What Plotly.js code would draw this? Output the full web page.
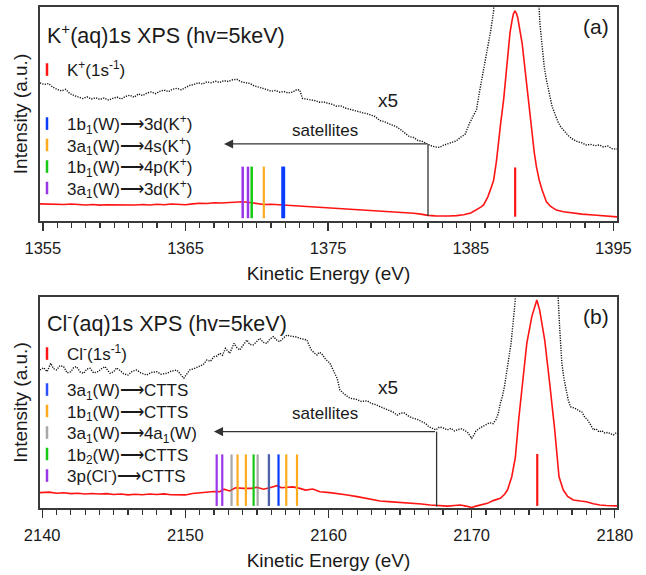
<!DOCTYPE html>
<html>
<head>
<meta charset="utf-8">
<script src="https://cdn.plot.ly/plotly-3.0.1.min.js"></script>
<style>html,body{margin:0;padding:0;background:#fff;}#chart{width:646px;height:575px;}</style>
</head>
<body>
<div id="chart"></div>
<script>
// ---------- Panel (a): K+ 1s XPS ----------
const kEnergy = [1354.8,1355.5,1356,1356.5,1357,1357.5,1358,1358.5,1359,1359.5,1360,1360.5,1361,1361.5,1362,1362.5,1363,1363.5,1364,1364.5,1365,1365.5,1366,1366.5,1367,1367.5,1368,1368.5,1369,1369.5,1370,1370.5,1371,1371.5,1372,1372.5,1373,1373.5,1374,1374.5,1375,1375.5,1376,1376.5,1377,1377.5,1378,1378.5,1379,1379.5,1380,1380.5,1381,1381.5,1382,1382.5,1383,1383.5,1384,1384.5,1385,1385.4,1385.7,1385.9,1386.2,1386.4,1386.6,1386.8,1386.9,1387.1,1387.3,1387.5,1387.6,1387.75,1387.9,1388.0,1388.1,1388.2,1388.3,1388.45,1388.6,1388.75,1388.9,1389.1,1389.3,1389.45,1389.6,1389.8,1390.0,1390.3,1390.6,1391.0,1391.5,1392.2,1392.8,1393.6,1394.3,1395.0,1395.25];
const kIntensity = [8.0,7.8,8.0,7.7,7.9,7.6,7.5,7.7,7.4,7.6,7.5,7.4,7.6,7.5,7.7,7.5,7.8,7.6,7.9,7.7,7.6,8.0,8.3,8.2,8.5,8.4,8.7,8.9,9.0,8.6,8.1,7.7,7.8,7.6,7.3,7.2,7.0,6.8,6.6,6.4,6.2,5.9,5.7,5.5,5.3,5.0,4.9,4.7,4.5,4.3,4.0,3.8,3.6,3.2,2.6,2.4,2.2,2.3,2.5,2.9,3.7,5.1,6.5,7.5,11.4,15.0,19.0,28,34.7,46,56.5,72,80,88,94,97,98,97,94.7,89,83,74,64.5,52,41,32,25.4,19,14.5,9,6.8,5.1,4.3,3.6,3.2,2.8,2.4,2.0,1.9];

const kZoomEnergy = [1354.8,1355.1,1355.4,1355.7,1356.0,1356.3,1356.6,1356.9,1357.2,1357.5,1357.8,1358.1,1358.4,1358.7,1359.0,1359.3,1359.6,1359.9,1360.2,1360.5,1360.8,1361.1,1361.4,1361.7,1362.0,1362.3,1362.6,1362.9,1363.2,1363.5,1363.8,1364.1,1364.4,1364.7,1365.0,1365.3,1365.6,1365.9,1366.2,1366.5,1366.8,1367.1,1367.4,1367.7,1368.0,1368.3,1368.6,1368.9,1369.2,1369.5,1369.8,1370.1,1370.4,1370.7,1371.0,1371.3,1371.6,1371.9,1372.2,1372.5,1372.8,1373.0,1373.2,1373.5,1373.8,1374.1,1374.4,1374.7,1375.0,1375.3,1375.6,1375.9,1376.2,1376.5,1376.8,1377.1,1377.4,1377.7,1378.0,1378.3,1378.6,1378.9,1379.2,1379.5,1379.8,1380.1,1380.4,1380.7,1381.0,1381.3,1381.6,1381.9,1382.2,1382.5,1382.8,1383.1,1383.4,1383.7,1384.0,1384.3,1384.6,1384.9,1385.2,1385.4,1385.6,1385.8,1386.0,1386.2,1386.4,1386.6,1386.8,1387.2,1387.6,1388.1,1388.6,1389.0,1389.4,1389.7,1389.85,1390.0,1390.15,1390.3,1390.5,1390.7,1390.9,1391.1,1391.3,1391.6,1391.9,1392.2,1392.5,1392.8,1393.1,1393.4,1393.7,1394.0,1394.3,1394.6,1394.9,1395.25];
const kZoomIntensity = [64.5,63.8,64.2,62.5,61.5,60.8,61.5,59.5,58.6,58.0,57.2,58.0,57.0,57.6,56.8,57.5,56.5,57.3,57.9,57.0,58.2,58.8,57.8,59.4,58.6,59.8,60.3,59.5,60.6,61.2,60.4,61.6,62.0,61.3,62.5,63.4,63.8,64.6,64.0,65.0,64.6,65.3,64.7,65.6,65.2,66.0,66.2,65.1,64.6,64.3,63.2,62.6,62.2,61.4,60.6,61.0,60.2,60.5,59.8,60.2,61.4,61.2,57.3,57.0,56.6,56.2,55.5,55.6,55.0,54.5,53.6,53.8,52.8,52.2,51.6,51.0,50.6,50.2,49.6,48.8,47.0,46.5,45.6,44.8,44.0,42.6,41.0,39.4,39.0,37.6,37.2,36.0,35.2,34.6,34.4,35.4,36.0,36.6,37.5,39.2,40.5,45.5,49.0,52.0,60.0,67.0,75.0,82.0,89.0,98.0,125,220,380,470,400,300,180,110,92,80,72,66,60,53.5,50.0,46.5,44.0,41.5,39.4,38.0,37.0,36.5,35.5,35.8,35.2,35.5,34.6,35.0,33.8,33.6];

const kMainLine = [1388.11];
const k_1b1_3d = [1371.80, 1371.90];
const k_3a1_4s = [1370.49];
const k_1b1_4p = [1369.64];
const k_3a1_3d = [1369.01, 1369.38];

// ---------- Panel (b): Cl- 1s XPS ----------
const clEnergy = [2139.85,2140.5,2141,2141.5,2142,2142.5,2143,2143.5,2144,2144.5,2145,2145.5,2146,2146.5,2147,2147.5,2148,2148.5,2149,2149.5,2150,2150.5,2151,2151.5,2152,2152.4,2152.7,2153.1,2153.5,2154.05,2154.6,2155.0,2155.45,2155.9,2156.4,2156.7,2157.1,2157.5,2158.0,2158.4,2158.9,2159.4,2160.1,2160.6,2161.2,2162,2162.8,2163.6,2164.2,2164.8,2165.4,2165.9,2166.5,2167.1,2167.7,2168.3,2168.8,2169.2,2169.6,2170.0,2170.3,2170.6,2171.1,2171.5,2172.0,2172.3,2172.5,2172.8,2173.05,2173.3,2173.6,2173.85,2174.2,2174.55,2174.75,2175.1,2175.45,2175.8,2176.1,2176.4,2176.7,2177.1,2177.6,2178.0,2178.5,2178.95,2179.4,2179.9,2180.15];
const clIntensity = [7.3,7.5,7.0,7.2,6.8,7.0,6.6,6.9,6.6,6.8,6.4,6.6,6.2,6.5,6.3,6.6,6.4,6.7,6.3,6.4,6.2,6.9,7.3,7.6,7.8,7.7,8.9,8.1,9.6,9.3,9.3,9.8,8.9,9.6,10.6,9.6,9.8,10.0,9.3,8.5,9.0,7.7,7.3,6.9,6.3,5.4,4.3,3.3,3.0,2.8,2.5,2.2,1.9,1.4,1.1,0.9,1.2,1.4,0.9,0.2,0.9,1.4,2.2,3.5,4.6,6.5,8.5,14.8,24,43,64,78,90.7,98.6,93.8,79.6,59,37,14.8,8.5,5.5,3.8,3.3,3.0,2.0,1.4,1.2,0.9,1.0];

const clZoomEnergy = [2139.85,2140.1,2140.35,2140.6,2140.8,2141.0,2141.25,2141.5,2141.75,2142.0,2142.2,2142.4,2142.65,2142.9,2143.1,2143.35,2143.6,2143.9,2144.15,2144.4,2144.6,2144.75,2145.0,2145.2,2145.4,2145.7,2146.0,2146.3,2146.6,2146.9,2147.3,2147.6,2148.0,2148.3,2148.7,2149.0,2149.4,2149.65,2149.9,2150.1,2150.3,2150.6,2151.0,2151.25,2151.5,2151.75,2152.0,2152.2,2152.4,2152.6,2152.8,2153.0,2153.1,2153.4,2153.6,2153.8,2154.05,2154.3,2154.5,2154.75,2155.0,2155.2,2155.45,2155.7,2155.9,2156.15,2156.4,2156.6,2156.85,2157.1,2157.3,2157.55,2157.8,2158.0,2158.25,2158.5,2158.65,2158.8,2159.0,2159.2,2159.35,2159.5,2159.8,2160.1,2160.35,2160.6,2160.8,2161.1,2161.5,2161.9,2162.3,2162.7,2163.0,2163.3,2163.6,2163.9,2164.2,2164.5,2164.8,2165.05,2165.3,2165.6,2165.9,2166.2,2166.5,2166.8,2167.0,2167.25,2167.5,2167.75,2168.0,2168.3,2168.55,2168.8,2169.05,2169.3,2169.5,2169.7,2169.85,2170.0,2170.15,2170.3,2170.6,2170.8,2171.0,2171.25,2171.5,2171.7,2171.85,2172.0,2172.15,2172.3,2172.45,2172.6,2172.75,2172.85,2173.05,2173.3,2173.6,2174.0,2174.55,2175.1,2175.45,2175.8,2176.0,2176.15,2176.3,2176.45,2176.6,2176.75,2176.9,2177.1,2177.3,2177.5,2177.7,2177.9,2178.1,2178.3,2178.5,2178.7,2178.9,2179.1,2179.3,2179.5,2179.7,2179.9,2180.15];
const clZoomIntensity = [65.4,66.5,64.6,68.6,66.0,65.4,67.5,67.0,64.0,64.6,66.5,67.0,64.5,63.8,65.8,66.2,64.0,64.6,66.0,67.0,65.0,63.8,64.6,66.4,65.4,63.6,63.0,64.8,65.4,64.0,63.0,64.2,64.6,63.4,63.8,64.8,65.4,63.5,61.5,63.5,65.4,66.0,67.0,68.0,70.1,69.5,71.7,72.0,73.3,72.4,75.7,73.8,73.3,78.0,76.0,74.9,77.0,79.6,77.5,77.3,79.0,80.4,78.5,78.0,80.0,81.2,79.5,78.8,80.5,82.0,81.5,81.2,81.0,80.4,80.0,79.6,77.0,74.9,73.5,72.5,73.8,73.3,70.5,68.6,65.0,61.5,55.9,54.0,52.0,51.6,50.5,50.8,49.5,49.0,48.0,47.2,46.5,45.5,44.0,45.0,45.0,43.5,42.6,42.0,41.0,40.0,38.5,37.6,37.0,38.4,38.0,37.0,37.8,36.5,37.2,37.5,36.8,36.0,34.5,33.0,34.5,36.5,38.0,38.6,39.5,40.4,40.0,42.0,44.5,49.6,53.0,58.0,64.0,71.6,78.0,85.0,98.6,150,270,420,480,380,270,150,105,85.0,68.6,61.0,55.0,51.0,48.0,47.5,47.0,46.0,45.5,43.0,41.7,39.5,37.0,37.5,36.0,36.6,35.5,35.8,35.0,34.6,36.0];

const clMainLine = [2174.58];
const c_3a1_ctts = [2155.84, 2156.51];
const c_1b1_ctts = [2153.65, 2154.23, 2157.05, 2157.80];
const c_3a1_4a1 = [2153.23, 2155.05, 2155.84];
const c_1b2_ctts = [2154.77];
const c_3p_ctts = [2152.19, 2152.58];

// ---------- styling / helpers ----------
const FONT = 'Liberation Sans, Arial, Helvetica, sans-serif';
const TXT = '#1a1a1a';
const RED = '#ff1414', BLUE = '#0a3cff', ORANGE = '#ffab1e', GREEN = '#14c814', PURPLE = '#9a35ea', GRAY = 'rgba(120,120,120,0.65)';
const ARR = '⟶';

function sticks(energies, lo, hi, color, width, xa, ya) {
  const x = [], y = [];
  energies.forEach(e => { x.push(e, e, null); y.push(lo, hi, null); });
  return {x, y, xaxis: xa, yaxis: ya, mode: 'lines', line: {color, width}, showlegend: false, hoverinfo: 'skip'};
}
function curve(x, y, color, width, dash, xa, ya) {
  return {x, y, xaxis: xa, yaxis: ya, mode: 'lines', line: {color, width, dash}, showlegend: false, hoverinfo: 'skip'};
}
function legendEntry(name, color, xa, ya, legendId) {
  return {x: [null], y: [null], xaxis: xa, yaxis: ya, mode: 'markers', name, legend: legendId,
    marker: {symbol: 'line-ns-open', size: 9, color, line: {color, width: 2.5}}, hoverinfo: 'skip'};
}

const traces = [
  curve(kZoomEnergy, kZoomIntensity, '#111', 1.4, '1.2px,1.3px', 'x', 'y'),
  curve(kEnergy, kIntensity, RED, 1.6, 'solid', 'x', 'y'),
  sticks(k_3a1_3d, 1.3, 25.4, PURPLE, 2.5, 'x', 'y'),
  sticks(k_1b1_4p, 1.3, 25.4, GREEN, 2.5, 'x', 'y'),
  sticks(k_3a1_4s, 1.3, 25.4, ORANGE, 2.2, 'x', 'y'),
  sticks(k_1b1_3d, 1.3, 25.4, BLUE, 2.5, 'x', 'y'),
  sticks(kMainLine, 2.0, 25.0, RED, 2.2, 'x', 'y'),

  curve(clZoomEnergy, clZoomIntensity, '#111', 1.4, '1.2px,1.3px', 'x2', 'y2'),
  curve(clEnergy, clIntensity, RED, 1.6, 'solid', 'x2', 'y2'),
  sticks(c_3p_ctts, 1.0, 25.4, PURPLE, 2.2, 'x2', 'y2'),
  sticks(c_1b1_ctts, 1.0, 25.4, ORANGE, 2.2, 'x2', 'y2'),
  sticks(c_1b2_ctts, 1.0, 25.4, GREEN, 2.2, 'x2', 'y2'),
  sticks(c_3a1_ctts, 1.0, 25.4, BLUE, 2.2, 'x2', 'y2'),
  sticks(c_3a1_4a1, 1.0, 25.4, GRAY, 2.2, 'x2', 'y2'),
  sticks(clMainLine, 1.0, 25.6, RED, 2.2, 'x2', 'y2'),

  legendEntry('K<sup>+</sup>(1s<sup>-1</sup>)', RED, 'x', 'y', 'legend'),
  legendEntry('1b<sub>1</sub>(W)' + ARR + '3d(K<sup>+</sup>)', BLUE, 'x', 'y', 'legend2'),
  legendEntry('3a<sub>1</sub>(W)' + ARR + '4s(K<sup>+</sup>)', ORANGE, 'x', 'y', 'legend3'),
  legendEntry('1b<sub>1</sub>(W)' + ARR + '4p(K<sup>+</sup>)', GREEN, 'x', 'y', 'legend4'),
  legendEntry('3a<sub>1</sub>(W)' + ARR + '3d(K<sup>+</sup>)', PURPLE, 'x', 'y', 'legend5'),
  legendEntry('Cl<sup>-</sup>(1s<sup>-1</sup>)', RED, 'x2', 'y2', 'legend6'),
  legendEntry('3a<sub>1</sub>(W)' + ARR + 'CTTS', '#2a50ff', 'x2', 'y2', 'legend7'),
  legendEntry('1b<sub>1</sub>(W)' + ARR + 'CTTS', ORANGE, 'x2', 'y2', 'legend8'),
  legendEntry('3a<sub>1</sub>(W)' + ARR + '4a<sub>1</sub>(W)', '#a8a8a8', 'x2', 'y2', 'legend9'),
  legendEntry('1b<sub>2</sub>(W)' + ARR + 'CTTS', GREEN, 'x2', 'y2', 'legend10'),
  legendEntry('3p(Cl<sup>-</sup>)' + ARR + 'CTTS', PURPLE, 'x2', 'y2', 'legend11')
];

// pixel helpers for layout placement (plot area: x 40..617, y 7..508)
const px2fx = p => (p - 40) / 577;
const px2fy = p => (508 - p) / 501;
const legendRows = [70, 124, 145.5, 167, 188.5, 354, 390, 411.5, 433, 454.5, 476];

const layout = {
  width: 646, height: 575,
  margin: {l: 40, r: 29, t: 7, b: 67},
  paper_bgcolor: '#fff', plot_bgcolor: '#fff',
  font: {family: FONT, color: TXT, size: 17},
  showlegend: true,
  xaxis: {domain: [0, 1], anchor: 'y', range: [1354.8, 1395.25], tick0: 1355, dtick: 10,
    ticks: 'outside', ticklen: 8, tickwidth: 1.3, tickcolor: '#333', ticklabelstandoff: 4,
    minor: {dtick: 1, ticks: 'outside', ticklen: 5, tickwidth: 1.2, tickcolor: '#333'},
    showline: true, mirror: true, linecolor: '#3a3a3a', linewidth: 1.6,
    showgrid: false, zeroline: false, tickfont: {size: 16.5, color: TXT},
    title: {text: 'Kinetic Energy (eV)', font: {size: 19, color: TXT}, standoff: 10}},
  yaxis: {domain: [0.5729, 1], anchor: 'x', range: [0, 100], showticklabels: false, ticks: '',
    showline: true, mirror: true, linecolor: '#3a3a3a', linewidth: 1.6, showgrid: false, zeroline: false,
    title: {text: 'Intensity (a.u.)', font: {size: 19, color: TXT}, standoff: 6}},
  xaxis2: {domain: [0, 1], anchor: 'y2', range: [2139.85, 2180.15], tick0: 2140, dtick: 10,
    ticks: 'outside', ticklen: 8, tickwidth: 1.3, tickcolor: '#333', ticklabelstandoff: 4,
    minor: {dtick: 1, ticks: 'outside', ticklen: 5, tickwidth: 1.2, tickcolor: '#333'},
    showline: true, mirror: true, linecolor: '#3a3a3a', linewidth: 1.6,
    showgrid: false, zeroline: false, tickfont: {size: 16.5, color: TXT},
    title: {text: 'Kinetic Energy (eV)', font: {size: 19, color: TXT}, standoff: 10}},
  yaxis2: {domain: [0, 0.4212], anchor: 'x2', range: [0, 100], showticklabels: false, ticks: '',
    showline: true, mirror: true, linecolor: '#3a3a3a', linewidth: 1.6, showgrid: false, zeroline: false,
    title: {text: 'Intensity (a.u.)', font: {size: 19, color: TXT}, standoff: 6}},
  annotations: [
    {text: 'K<sup>+</sup>(aq)1s XPS (hv=5keV)', xref: 'paper', yref: 'paper', x: px2fx(45), y: px2fy(34), xanchor: 'left', yanchor: 'middle', showarrow: false, font: {size: 21.5, color: TXT}},
    {text: 'Cl<sup>-</sup>(aq)1s XPS (hv=5keV)', xref: 'paper', yref: 'paper', x: px2fx(45), y: px2fy(322), xanchor: 'left', yanchor: 'middle', showarrow: false, font: {size: 21.5, color: TXT}},
    {text: '(a)', xref: 'paper', yref: 'paper', x: px2fx(611), y: px2fy(26), xanchor: 'right', yanchor: 'middle', showarrow: false, font: {size: 21, color: TXT}},
    {text: '(b)', xref: 'paper', yref: 'paper', x: px2fx(611), y: px2fy(316), xanchor: 'right', yanchor: 'middle', showarrow: false, font: {size: 21, color: TXT}},
    {text: 'x5', xref: 'x', yref: 'y', x: 1379.2, y: 56.5, showarrow: false, font: {size: 19, color: TXT}},
    {text: 'satellites', xref: 'x', yref: 'y', x: 1374.75, y: 42.5, showarrow: false, font: {size: 17, color: TXT}},
    {text: '', xref: 'x', yref: 'y', axref: 'x', ayref: 'y', x: 1367.7, y: 36, ax: 1382.0, ay: 36, showarrow: true, arrowhead: 2, arrowsize: 1.4, arrowwidth: 1.3, arrowcolor: '#333'},
    {text: 'x5', xref: 'x2', yref: 'y2', x: 2164.15, y: 57.3, showarrow: false, font: {size: 19, color: TXT}},
    {text: 'satellites', xref: 'x2', yref: 'y2', x: 2159.75, y: 45, showarrow: false, font: {size: 17, color: TXT}},
    {text: '', xref: 'x2', yref: 'y2', axref: 'x2', ayref: 'y2', x: 2152.0, y: 36.2, ax: 2167.55, ay: 36.2, showarrow: true, arrowhead: 2, arrowsize: 1.4, arrowwidth: 1.3, arrowcolor: '#333'}
  ],
  shapes: [
    {type: 'line', xref: 'x', yref: 'y', x0: 1382.0, x1: 1382.0, y0: 36, y1: 2.3, line: {color: '#333', width: 1.3}},
    {type: 'line', xref: 'x2', yref: 'y2', x0: 2167.55, x1: 2167.55, y0: 36.2, y1: 0.7, line: {color: '#333', width: 1.3}}
  ]
};

const legendIds = ['legend','legend2','legend3','legend4','legend5','legend6','legend7','legend8','legend9','legend10','legend11'];
legendIds.forEach((id, i) => {
  layout[id] = {x: px2fx(27), xanchor: 'left', y: px2fy(legendRows[i]), yanchor: 'middle',
    bgcolor: 'rgba(0,0,0,0)', borderwidth: 0, font: {size: 17, color: TXT, family: FONT}};
});

Plotly.newPlot('chart', traces, layout, {displayModeBar: false, staticPlot: true});
</script>
</body>
</html>
